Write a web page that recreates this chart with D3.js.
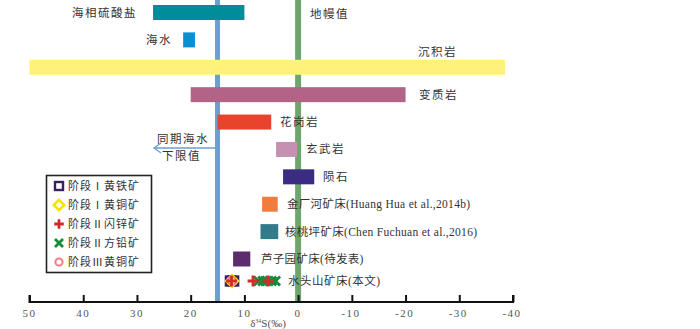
<!DOCTYPE html>
<html>
<head>
<meta charset="utf-8">
<script src="https://cdn.jsdelivr.net/npm/d3@7"></script>
<style>
  html, body { margin: 0; padding: 0; background: #fff; }
  svg { display: block; }
  text { font-family: "Liberation Serif", "Noto Sans CJK SC", serif; fill: #333; }
</style>
</head>
<body>
<div id="chart"></div>
<script>
// δ34S ranges of reservoirs and deposits
const rangeNames = ['海相硫酸盐', '海水', '沉积岩', '变质岩', '花岗岩', '玄武岩', '陨石', '金厂河', '核桃坪', '芦子园'];
const rangeHigh  = [27, 21.4, 50, 20, 15, 4.1, 2.8, 6.7, 7, 12.1];
const rangeLow   = [10, 19.2, -38.5, -20, 5, 0.2, -3, 3.8, 3.7, 8.9];
const rangeColors = ['#008c98', '#0a8fd0', '#fff27a', '#b26487', '#e8432c', '#c690b2', '#3b2b81', '#f07c3e', '#337b8b', '#5c2c6c'];
const rangeLabels = ['海相硫酸盐', '海水', '沉积岩', '变质岩', '花岗岩', '玄武岩', '陨石',
  '金厂河矿床(Huang Hua et al.,2014b)', '核桃坪矿床(Chen Fuchuan et al.,2016)', '芦子园矿床(待发表)'];

// reference values
const seawaterLow = 15;
const mantleValue = 0;

// 水头山 sample values by mineral/stage
const stageNames = ['阶段Ⅰ黄铁矿', '阶段Ⅰ黄铜矿', '阶段Ⅱ闪锌矿', '阶段Ⅱ方铅矿', '阶段Ⅲ黄铜矿'];
const pyriteI = [12.6, 12.0];
const chalcoI = [12.3];
const sphalII = [12.4, 8.4, 5.6];
const galenaII = [7.4, 6.6, 5.8, 4.9, 4.2];
const chalcoIII = [12.3];

const xTicks = [50, 40, 30, 20, 10, 0, -10, -20, -30, -40];

const W = 700, H = 329;
const svg = d3.select('#chart').append('svg').attr('width', W).attr('height', H);

const x = d3.scaleLinear().domain([50, -40]).range([29.5, 513]);
const y = d3.scalePoint().domain(rangeNames).range([12.5, 259]);
const axisY = 302;
const sampleY = 281;
const barH = 15;

// reference lines
svg.append('rect').attr('x', x(seawaterLow) - 2.5).attr('y', 0).attr('width', 5).attr('height', axisY)
  .attr('fill', '#6b9fcf');
svg.append('rect').attr('x', x(mantleValue) - 3).attr('y', 0).attr('width', 6).attr('height', axisY)
  .attr('fill', '#6ea56c');

// seawater arrow
svg.append('line').attr('x1', x(seawaterLow)).attr('x2', 154).attr('y1', 148).attr('y2', 148)
  .attr('stroke', '#6b9fcf').attr('stroke-width', 1.3);
svg.append('path').attr('d', 'M161,143 L154,148 L161,153').attr('fill', 'none')
  .attr('stroke', '#6b9fcf').attr('stroke-width', 1.3);

// range bars
svg.append('g').selectAll('rect').data(rangeNames).join('rect')
  .attr('x', (d, i) => x(rangeHigh[i]))
  .attr('width', (d, i) => x(rangeLow[i]) - x(rangeHigh[i]))
  .attr('y', d => y(d) - barH / 2)
  .attr('height', barH)
  .attr('fill', (d, i) => rangeColors[i]);

// labels
const lab = svg.append('g').style('font-size', '11.5px').style('letter-spacing', '1.5px');
const labPos = [
  { a: 'end', dx: 137, dy: 4 }, { a: 'end', dx: 172, dy: 4 }, { a: 'start', dx: 418, dy: -11 },
  { a: 'start', dx: 419, dy: 4 }, { a: 'start', dx: 280, dy: 4 }, { a: 'start', dx: 306, dy: 4 },
  { a: 'start', dx: 323, dy: 4 }, { a: 'start', dx: 287, dy: 4 }, { a: 'start', dx: 285, dy: 4 },
  { a: 'start', dx: 261, dy: 4 }
];
rangeNames.forEach((n, i) => {
  lab.append('text')
    .attr('x', labPos[i].dx)
    .attr('y', y(n) + labPos[i].dy)
    .attr('text-anchor', labPos[i].a)
    .style('letter-spacing', i >= 7 ? '0.3px' : '1.5px')
    .text(rangeLabels[i]);
});
lab.append('text').attr('x', 310).attr('y', 18).text('地幔值');
lab.append('text').attr('x', 288).attr('y', sampleY + 4).style('letter-spacing', '0.5px').text('水头山矿床(本文)');
lab.append('text').attr('x', 209).attr('y', 143).attr('text-anchor', 'end').text('同期海水');
lab.append('text').attr('x', 201).attr('y', 160).attr('text-anchor', 'end').text('下限值');

// markers
function drawMarker(g, type, cx, cy, s) {
  if (type === 0) {
    g.append('rect').attr('x', cx - s / 2).attr('y', cy - s / 2).attr('width', s).attr('height', s)
      .attr('fill', '#fff').attr('stroke', '#3b1f63').attr('stroke-width', 2.4);
  } else if (type === 1) {
    const r = s * 0.65;
    g.append('path').attr('d', `M${cx},${cy - r} L${cx + r},${cy} L${cx},${cy + r} L${cx - r},${cy} Z`)
      .attr('fill', '#fff').attr('stroke', '#f5e400').attr('stroke-width', 2.6);
  } else if (type === 2) {
    const r = s * 0.6;
    g.append('path').attr('d', `M${cx - r},${cy} L${cx + r},${cy} M${cx},${cy - r} L${cx},${cy + r}`)
      .attr('stroke', '#d42a2a').attr('stroke-width', 2.8);
  } else if (type === 3) {
    const r = s * 0.5;
    g.append('path').attr('d', `M${cx - r},${cy - r} L${cx + r},${cy + r} M${cx + r},${cy - r} L${cx - r},${cy + r}`)
      .attr('stroke', '#168a3c').attr('stroke-width', 2.8);
  } else {
    g.append('circle').attr('cx', cx).attr('cy', cy).attr('r', s * 0.45)
      .attr('fill', 'none').attr('stroke', '#f07e85').attr('stroke-width', 2);
  }
}

const mk = svg.append('g');
const series = [pyriteI, chalcoI, sphalII, galenaII, chalcoIII];
[3, 0, 1, 4, 2].forEach(t => {
  series[t].forEach(v => drawMarker(mk, t, x(v), sampleY, 9));
});

// legend
const lg = svg.append('g');
lg.append('rect').attr('x', 46.5).attr('y', 175.5).attr('width', 105).attr('height', 97)
  .attr('fill', '#fff').attr('stroke', '#222').attr('stroke-width', 1.6);
stageNames.forEach((n, i) => {
  const cy = 186 + i * 19;
  drawMarker(lg, i, 59, cy, 8);
  lg.append('text').attr('x', 68).attr('y', cy + 4)
    .style('font-size', '11px').style('letter-spacing', '1px').text(n);
});

// axis
const axis = svg.append('g').attr('transform', `translate(0,${axisY})`)
  .call(d3.axisTop(x).tickValues(xTicks).tickSize(7).tickFormat(''));
axis.select('.domain').attr('stroke', '#111').attr('stroke-width', 2).attr('d', `M${x(50)},-7V0H${x(-40)}V-7`);
axis.selectAll('.tick line').attr('stroke', '#111').attr('stroke-width', 2);

svg.append('g').selectAll('text').data(xTicks).join('text')
  .attr('x', d => x(d) + (d < 0 ? -1 : 0))
  .attr('y', axisY + 15)
  .attr('text-anchor', 'middle')
  .style('font-size', '11px')
  .style('letter-spacing', '1.5px')
  .style('fill', '#555')
  .text(d => d < 0 ? '-' + Math.abs(d) : d);

const xl = svg.append('text').attr('x', 268).attr('y', 327).attr('text-anchor', 'middle')
  .style('font-size', '11px').style('fill', '#555');
xl.append('tspan').text('δ');
xl.append('tspan').attr('dy', -4).style('font-size', '6px').text('34');
xl.append('tspan').attr('dy', 4).text('S(‰)');
</script>
</body>
</html>
